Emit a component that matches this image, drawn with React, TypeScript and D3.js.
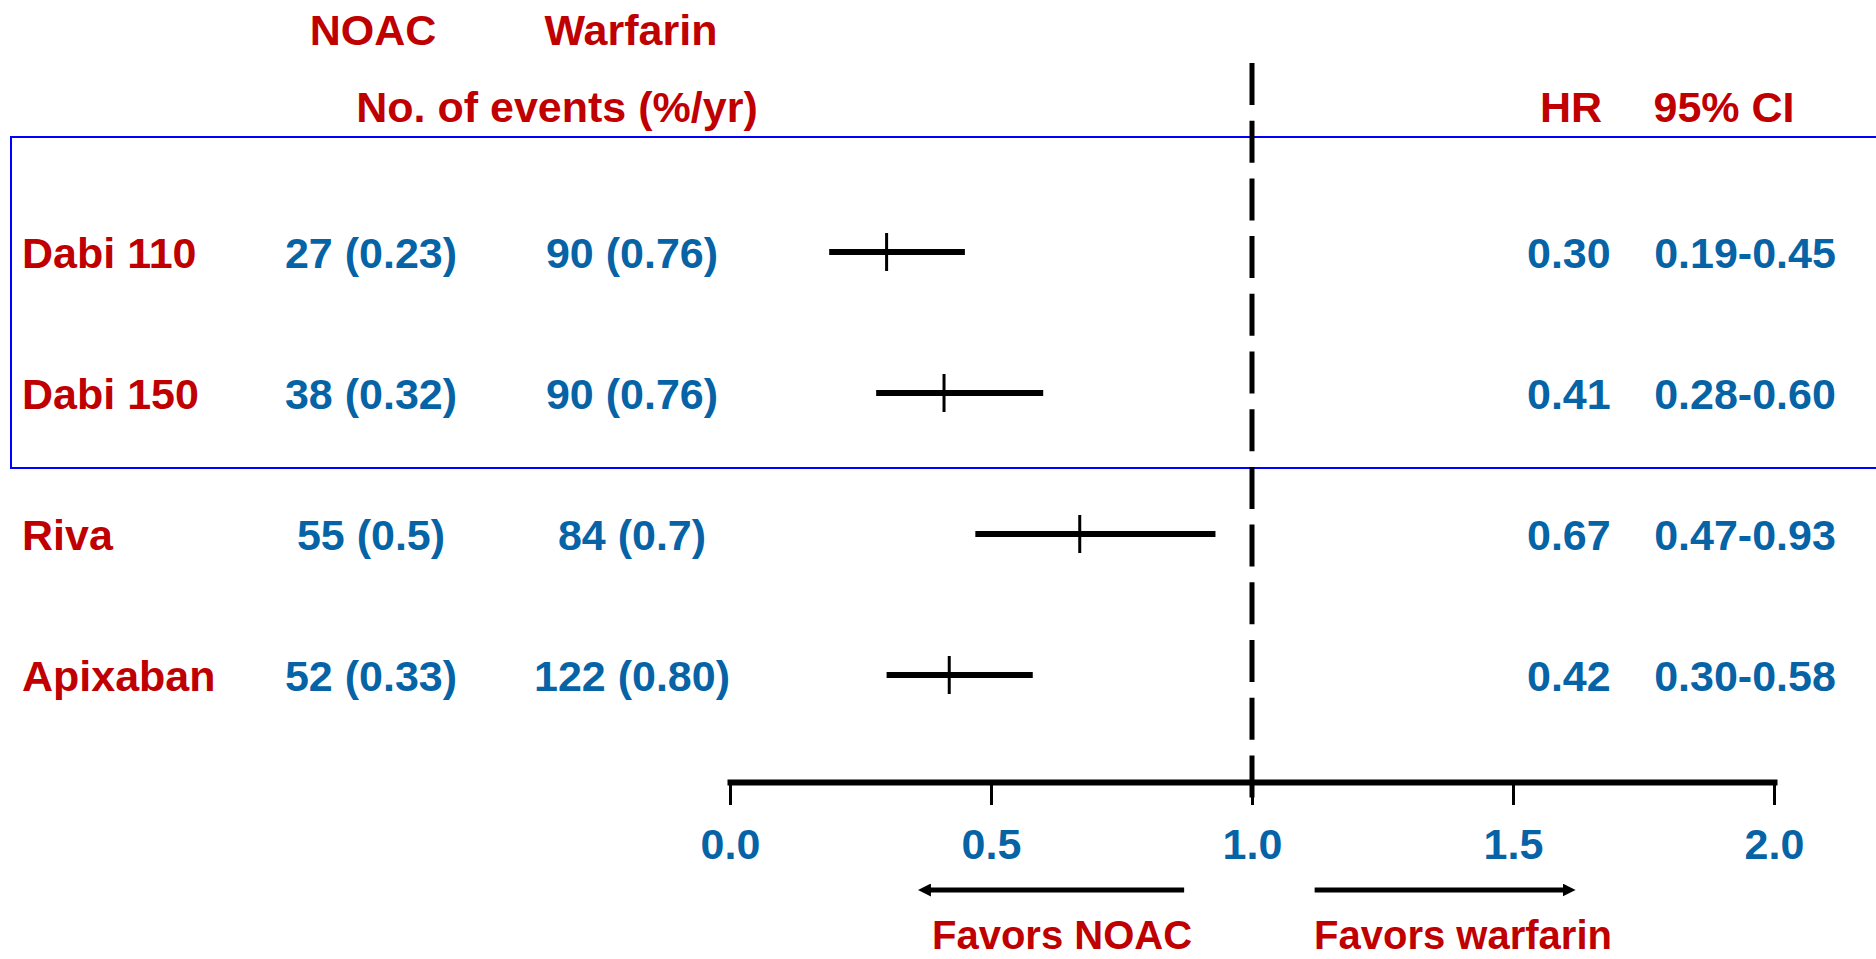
import { useEffect, useRef } from "react";
import * as d3 from "d3";

// forest plot data
const studies = ["Dabi 110", "Dabi 150", "Riva", "Apixaban"];
const noacEvents = ["27 (0.23)", "38 (0.32)", "55 (0.5)", "52 (0.33)"];
const warfarinEvents = ["90 (0.76)", "90 (0.76)", "84 (0.7)", "122 (0.80)"];
const hr = [0.3, 0.41, 0.67, 0.42];
const ciLow = [0.19, 0.28, 0.47, 0.3];
const ciHigh = [0.45, 0.6, 0.93, 0.58];
const tickValues = [0, 0.5, 1, 1.5, 2];

const RED = "#c00000";
const BLUE = "#0563a6";
const FONT = "'Liberation Sans', Arial, sans-serif";

export default function App() {
  const axisRef = useRef<SVGGElement>(null);
  const width = 1876;
  const height = 959;

  const x = d3.scaleLinear().domain([0, 2]).range([730, 1774]);
  const y = d3.scalePoint<string>().domain(studies).range([252, 675]);
  const axisY = 782;
  const fmt = d3.format(".2f");

  useEffect(() => {
    // bottom axis with thick domain line
    const g = d3.select(axisRef.current);
    g.selectAll("*").remove();
    g.call(
      d3.axisBottom(x)
        .tickValues(tickValues)
        .tickSize(23)
        .tickSizeOuter(0)
        .tickPadding(23)
        .tickFormat(d3.format(".1f"))
    );
    g.select(".domain")
      .attr("stroke", "#000")
      .attr("stroke-width", 6)
      .attr("stroke-linecap", "square");
    g.selectAll(".tick line").attr("stroke", "#000").attr("stroke-width", 3);
    g.selectAll(".tick text")
      .attr("fill", BLUE)
      .attr("font-size", 43)
      .attr("font-weight", "bold")
      .attr("font-family", FONT);
  }, []);

  const txt = {
    fontFamily: FONT,
    fontWeight: "bold" as const,
    fontSize: 43,
  };

  return (
    <svg
      width={width}
      height={height}
      style={{ position: "absolute", left: 0, top: 0, background: "#fff" }}
    >
      {/* headers */}
      <g fill={RED} style={txt}>
        <text x={373} y={45} textAnchor="middle">NOAC</text>
        <text x={631} y={45} textAnchor="middle">Warfarin</text>
        <text x={557} y={122} textAnchor="middle">No. of events (%/yr)</text>
        <text x={1540} y={122}>HR</text>
        <text x={1724} y={122} textAnchor="middle">95% CI</text>
      </g>

      {/* dabigatran box */}
      <rect x={11} y={137} width={1880} height={331} fill="none" stroke="#0000ff" strokeWidth={2} />

      {/* null line */}
      <line
        x1={x(1)} x2={x(1)} y1={63} y2={806}
        stroke="#000" strokeWidth={5} strokeDasharray="42 15.7"
      />

      {/* rows */}
      {studies.map((s, i) => {
        const cy = y(s)!;
        return (
          <g key={s}>
            <text x={22} y={cy + 16} fill={RED} style={txt}>{s}</text>
            <text x={371} y={cy + 16} fill={BLUE} textAnchor="middle" style={txt}>{noacEvents[i]}</text>
            <text x={632} y={cy + 16} fill={BLUE} textAnchor="middle" style={txt}>{warfarinEvents[i]}</text>
            <text x={1527} y={cy + 16} fill={BLUE} style={txt}>{fmt(hr[i])}</text>
            <text x={1745} y={cy + 16} fill={BLUE} textAnchor="middle" style={txt}>
              {fmt(ciLow[i])}-{fmt(ciHigh[i])}
            </text>
            <line x1={x(ciLow[i])} x2={x(ciHigh[i])} y1={cy} y2={cy} stroke="#000" strokeWidth={6} />
            <line x1={x(hr[i])} x2={x(hr[i])} y1={cy - 19} y2={cy + 19} stroke="#000" strokeWidth={3} />
          </g>
        );
      })}

      <g ref={axisRef} transform={`translate(0,${axisY})`} />

      {/* direction arrows */}
      <defs>
        <marker id="head" viewBox="0 0 10 10" refX="2" refY="5" markerWidth="2.6" markerHeight="2.6" orient="auto">
          <path d="M0,0 L10,5 L0,10 z" fill="#000" />
        </marker>
      </defs>
      <line x1={x(0.87)} x2={x(0.38)} y1={890} y2={890} stroke="#000" strokeWidth={5} markerEnd="url(#head)" />
      <line x1={x(1.12)} x2={x(1.6)} y1={890} y2={890} stroke="#000" strokeWidth={5} markerEnd="url(#head)" />

      <g fill={RED} style={{ ...txt, fontSize: 40 }}>
        <text x={1062} y={949} textAnchor="middle">Favors NOAC</text>
        <text x={1463} y={949} textAnchor="middle">Favors warfarin</text>
      </g>
    </svg>
  );
}
